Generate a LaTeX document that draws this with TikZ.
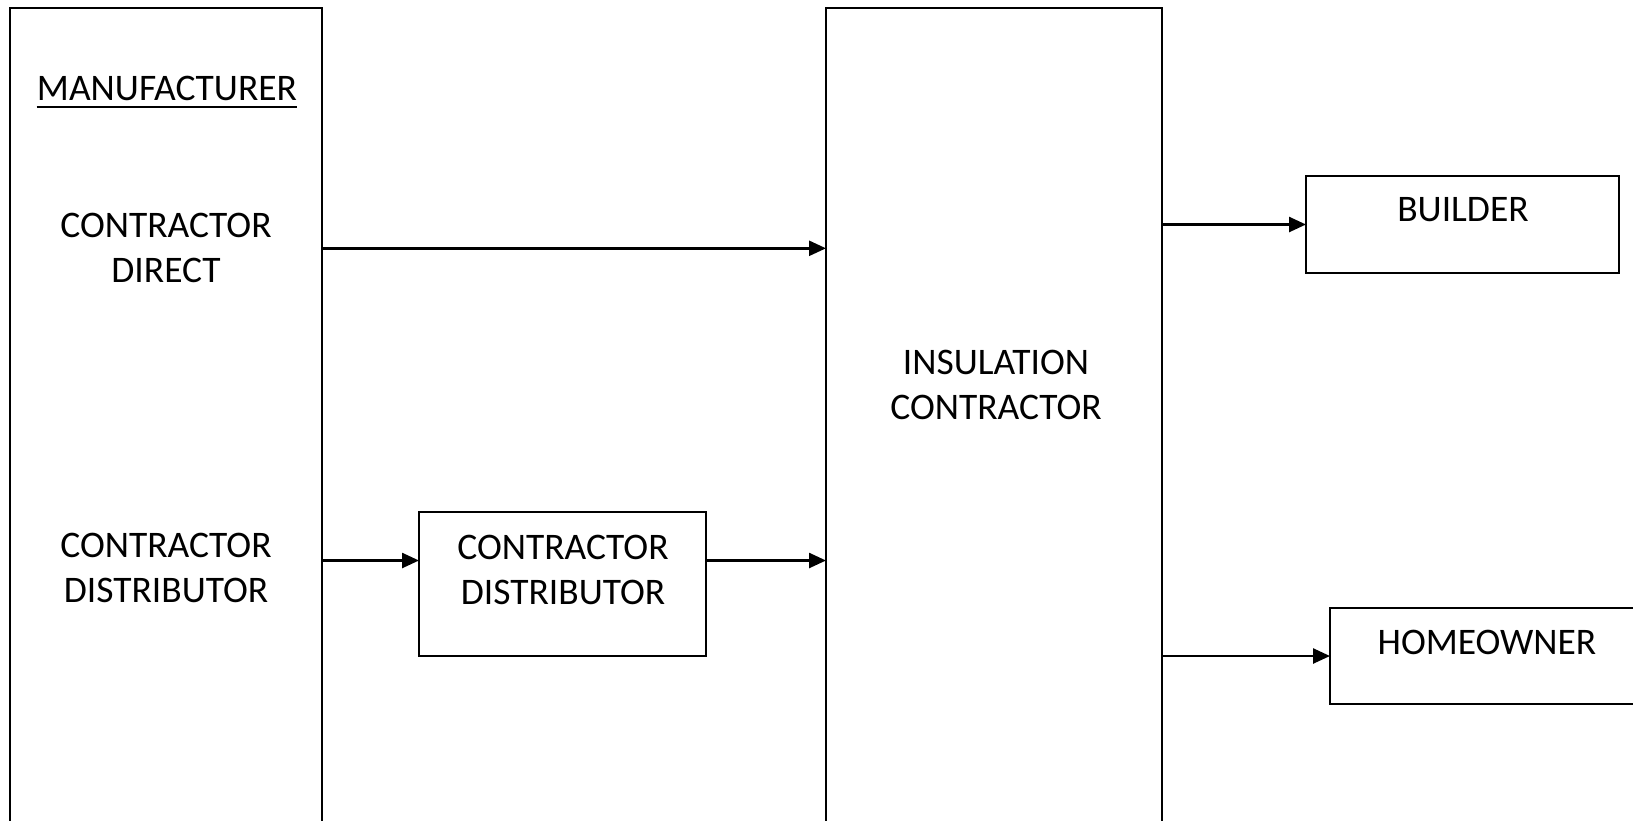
\documentclass[tikz,border=0pt]{standalone}
\usepackage{fontspec}
\setmainfont{Carlito}
\usetikzlibrary{arrows.meta, positioning, calc}

\begin{document}
\begin{tikzpicture}[
    x=1pt, y=-1pt,
    block/.style={rectangle, draw=black, line width=2.3pt, inner sep=0pt, outer sep=0pt},
    lbl/.style={font=\fontsize{37.5}{45}\selectfont, align=center, inner sep=0pt},
    arrow/.style={-{Triangle[length=17pt, width=15pt]}, line width=2.5pt}
]
\useasboundingbox (0,0) rectangle (1633,820);
\clip (0,0) rectangle (1633,820);

% Boxes
\node[block, minimum width=312pt, minimum height=852pt, anchor=north west] (mfr) at (10,8) {};
\node[block, minimum width=336pt, minimum height=852pt, anchor=north west] (insul) at (826,8) {};
\node[block, minimum width=287pt, minimum height=144pt, anchor=north west] (distbox) at (419,512) {};
\node[block, minimum width=313pt, minimum height=97pt, anchor=north west] (builder) at (1306,176) {};
\node[block, minimum width=330pt, minimum height=96pt, anchor=north west] (homeowner) at (1330,608) {};

% Labels
\node[lbl, anchor=base] (mfrlbl) at (167,100) {MANUFACTURER};
\draw[line width=2.3pt] ([yshift=-7pt]mfrlbl.base west) -- ([yshift=-7pt]mfrlbl.base east);
\node[lbl] (directlbl) at (166,248.3) {CONTRACTOR\\DIRECT};
\node[lbl] (distlbl) at (166,568) {CONTRACTOR\\DISTRIBUTOR};
\node[lbl] (distboxlbl) at (563,570) {CONTRACTOR\\DISTRIBUTOR};
\node[lbl] (insullbl) at (996,385) {INSULATION\\CONTRACTOR};
\node[lbl, anchor=base] (builderlbl) at (1463,221.7) {BUILDER};
\node[lbl, anchor=base] (homelbl) at (1487,654) {HOMEOWNER};

% Arrows
\coordinate (distrow) at (0,560.5);
\draw[arrow] (mfr.east |- directlbl) -- (insul.west |- directlbl);
\draw[arrow] (mfr.east |- distrow) -- (distbox.west |- distrow);
\draw[arrow] (distbox.east |- distrow) -- (insul.west |- distrow);
\draw[arrow] (insul.east |- builder.west) -- (builder.west);
\draw[arrow] (insul.east |- homeowner.west) -- (homeowner.west);

\end{tikzpicture}
\end{document}
